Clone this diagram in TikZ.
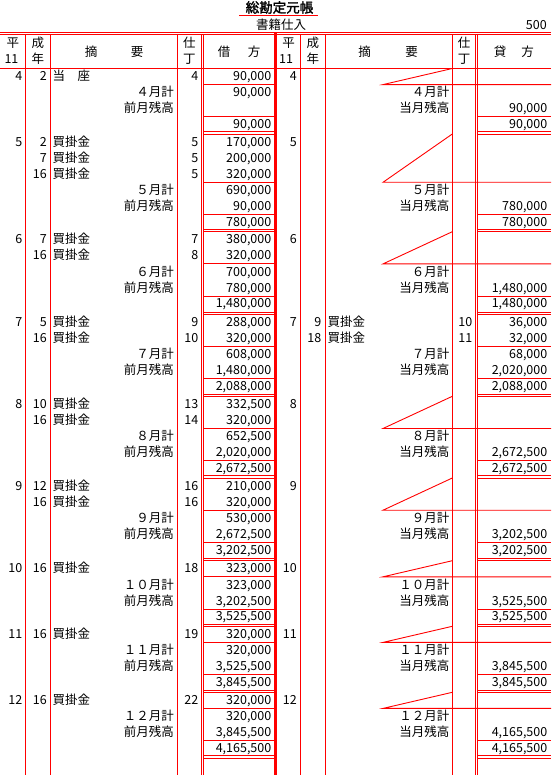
\documentclass[tikz,border=0pt]{standalone}
\usepackage{fontspec}
\setmainfont{Noto Sans CJK JP}
\newfontfamily\titlefont[FakeBold=2]{Noto Sans CJK JP}
\usepackage{xcolor}
\definecolor{ruled}{HTML}{FF0000}

\begin{document}
\begin{tikzpicture}[
    x=1pt, y=-1pt,
    rule/.style={draw=ruled, line width=0.9pt},
    boldrule/.style={draw=ruled, line width=3.4pt},
    cell/.style={inner sep=0pt, font=\fontsize{12.5}{14}\selectfont},
    num/.style={cell, anchor=base east},
    itemtext/.style={cell, anchor=base west},
    head/.style={cell, anchor=base}
]
\useasboundingbox (0,0) rectangle (551,775);

% ---- Title ----
\node[inner sep=0pt, anchor=base, font=\titlefont\fontsize{13.5}{15}\selectfont] (title) at (279.5,12.6) {総勘定元帳};
\draw[rule] (239.3,15.7) -- (318.3,15.7);
\node[head] (account) at (281,30) {書籍仕入};
\node[num] (accno) at (547,29.3) {500};

% ---- Rulings ----
\draw[rule] (0,32.3) -- (551,32.3);
\draw[rule] (0,34.5) -- (551,34.5);
\draw[rule] (0,68.5) -- (551,68.5);
\foreach \x in {25.7,50,177.7,201,203.3,300.7,325,452.3,475.7,477.7}
    \draw[rule] (\x,34.5) -- (\x,775);
\draw[boldrule] (275.3,32.3) -- (275.3,775);

% ---- Header ----
\node[head] (lhei) at (12.8,47.6) {平};
\node[head] (lsei) at (37.9,47.6) {成};
\node[head] (lyear) at (11.5,64) {11};
\node[head] (lnen) at (37.9,64) {年};
\node[head] (ltek) at (91,57) {摘};
\node[head] (lyou) at (137,57) {要};
\node[head] (lshi) at (189.3,47.6) {仕};
\node[head] (lcho) at (189.3,64) {丁};
\node[head] (lkari) at (224,57) {借};
\node[head] (lkata) at (254,57) {方};
\node[head] (rhei) at (288.5,47.6) {平};
\node[head] (rsei) at (312.8,47.6) {成};
\node[head] (ryear) at (286,64) {11};
\node[head] (rnen) at (312.8,64) {年};
\node[head] (rtek) at (364.7,57) {摘};
\node[head] (ryou) at (411.7,57) {要};
\node[head] (rshi) at (464,47.6) {仕};
\node[head] (rcho) at (464,64) {丁};
\node[head] (rkashi) at (500,57) {貸};
\node[head] (rkata) at (527.7,57) {方};

% ---- Monthly rulings: group top / entry rows ----
\foreach \g/\n/\ng in {68.5/1/134, 134/3/231.7, 231.7/2/314.3, 314.3/2/396.3,
        396.3/2/478, 478/2/560.7, 560.7/1/626.3, 626.3/1/692.3, 692.3/1/758}{
    \draw[rule] (203.3,{\g+16.1*\n}) -- (274,{\g+16.1*\n});
    \draw[rule] (203.3,{\g+16.1*(\n+2)}) -- (274,{\g+16.1*(\n+2)});
    \draw[rule] (477.7,{\g+16.1*(\n+2)}) -- (551,{\g+16.1*(\n+2)});
    \draw[rule] (203.3,{\ng-2.3}) -- (274,{\ng-2.3});
    \draw[rule] (203.3,\ng) -- (274,\ng);
    \draw[rule] (477.7,{\ng-2.3}) -- (551,{\ng-2.3});
    \draw[rule] (477.7,\ng) -- (551,\ng);
}
% credit side closed with a slash
\foreach \g/\n in {68.5/1, 134/3, 231.7/2, 396.3/2, 478/2, 560.7/1, 626.3/1, 692.3/1}
    \draw[rule] (452.3,\g) -- (383,{\g+16.1*\n}) -- (551,{\g+16.1*\n});
\draw[rule] (477.7,346.5) -- (551,346.5);

% ---- Debit entries ----
\foreach \g/\k/\m/\d/\t/\p/\a [count=\i] in {
        68.5/0/4/2/当　座/4/{90,000},
        134/0/5/2/買掛金/5/{170,000},
        134/1/{}/7/買掛金/5/{200,000},
        134/2/{}/16/買掛金/5/{320,000},
        231.7/0/6/7/買掛金/7/{380,000},
        231.7/1/{}/16/買掛金/8/{320,000},
        314.3/0/7/5/買掛金/9/{288,000},
        314.3/1/{}/16/買掛金/10/{320,000},
        396.3/0/8/10/買掛金/13/{332,500},
        396.3/1/{}/16/買掛金/14/{320,000},
        478/0/9/12/買掛金/16/{210,000},
        478/1/{}/16/買掛金/16/{320,000},
        560.7/0/10/16/買掛金/18/{323,000},
        626.3/0/11/16/買掛金/19/{320,000},
        692.3/0/12/16/買掛金/22/{320,000}}{
    \node[num] (lmon\i) at (22.5,{\g+12.2+16.1*\k}) {\m};
    \node[num] (lday\i) at (47,{\g+12.2+16.1*\k}) {\d};
    \node[itemtext] (litem\i) at (52.5,{\g+12.2+16.1*\k}) {\t};
    \node[num] (lref\i) at (198.5,{\g+12.2+16.1*\k}) {\p};
    \node[num] (lamt\i) at (271.5,{\g+12.2+16.1*\k}) {\a};
}

% ---- Credit entries ----
\foreach \g/\k/\m/\d/\t/\p/\a [count=\i] in {
        68.5/0/4/{}/{}/{}/{},
        134/0/5/{}/{}/{}/{},
        231.7/0/6/{}/{}/{}/{},
        314.3/0/7/9/買掛金/10/{36,000},
        314.3/1/{}/18/買掛金/11/{32,000},
        396.3/0/8/{}/{}/{}/{},
        478/0/9/{}/{}/{}/{},
        560.7/0/10/{}/{}/{}/{},
        626.3/0/11/{}/{}/{}/{},
        692.3/0/12/{}/{}/{}/{}}{
    \node[num] (rmon\i) at (297,{\g+12.2+16.1*\k}) {\m};
    \node[num] (rday\i) at (321.5,{\g+12.2+16.1*\k}) {\d};
    \node[itemtext] (ritem\i) at (327.5,{\g+12.2+16.1*\k}) {\t};
    \node[num] (rref\i) at (472.5,{\g+12.2+16.1*\k}) {\p};
    \node[num] (ramt\i) at (547.5,{\g+12.2+16.1*\k}) {\a};
}

% ---- Monthly totals and balances ----
\foreach \g/\n/\mk/\ls/\lb/\tot/\rs/\rb [count=\i] in {
        68.5/1/４月計/{90,000}/{}/{90,000}/{}/{90,000},
        134/3/５月計/{690,000}/{90,000}/{780,000}/{}/{780,000},
        231.7/2/６月計/{700,000}/{780,000}/{1,480,000}/{}/{1,480,000},
        314.3/2/７月計/{608,000}/{1,480,000}/{2,088,000}/{68,000}/{2,020,000},
        396.3/2/８月計/{652,500}/{2,020,000}/{2,672,500}/{}/{2,672,500},
        478/2/９月計/{530,000}/{2,672,500}/{3,202,500}/{}/{3,202,500},
        560.7/1/１０月計/{323,000}/{3,202,500}/{3,525,500}/{}/{3,525,500},
        626.3/1/１１月計/{320,000}/{3,525,500}/{3,845,500}/{}/{3,845,500},
        692.3/1/１２月計/{320,000}/{3,845,500}/{4,165,500}/{}/{4,165,500}}{
    \node[num] (lsum\i) at (174,{\g+12.2+16.1*\n}) {\mk};
    \node[num] (lsumamt\i) at (271.5,{\g+12.2+16.1*\n}) {\ls};
    \node[num] (lprev\i) at (174,{\g+12.2+16.1*(\n+1)}) {前月残高};
    \node[num] (lprevamt\i) at (271.5,{\g+12.2+16.1*(\n+1)}) {\lb};
    \node[num] (ltot\i) at (271.5,{\g+11.8+16.1*(\n+2)}) {\tot};
    \node[num] (rsum\i) at (449.5,{\g+12.2+16.1*\n}) {\mk};
    \node[num] (rsumamt\i) at (547.5,{\g+12.2+16.1*\n}) {\rs};
    \node[num] (rbal\i) at (449.5,{\g+12.2+16.1*(\n+1)}) {当月残高};
    \node[num] (rbalamt\i) at (547.5,{\g+12.2+16.1*(\n+1)}) {\rb};
    \node[num] (rtot\i) at (547.5,{\g+11.8+16.1*(\n+2)}) {\tot};
}

\end{tikzpicture}
\end{document}
